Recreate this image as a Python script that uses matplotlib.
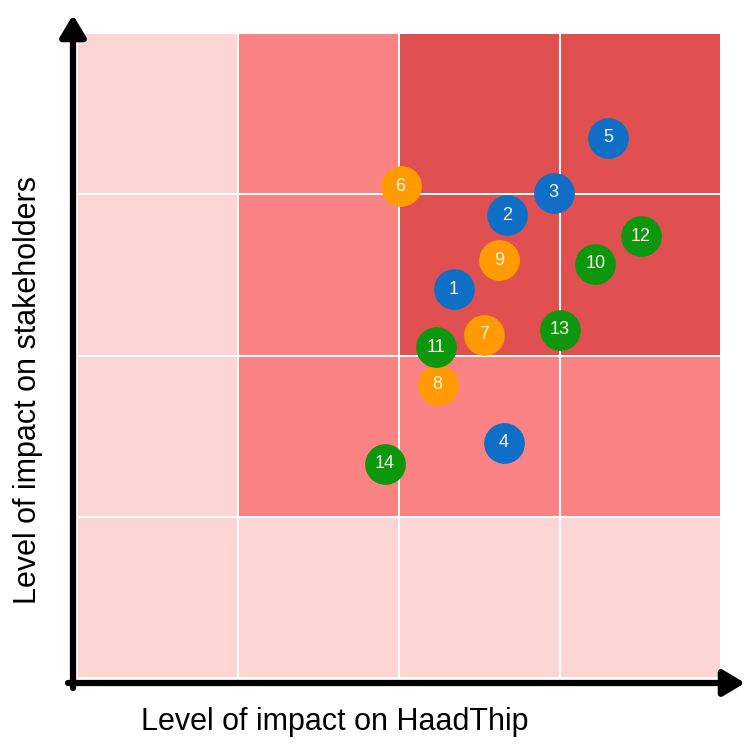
import numpy as np
import matplotlib
matplotlib.use("Agg")
import matplotlib.pyplot as plt
from matplotlib.colors import ListedColormap

# ---- data ----
ids = [1, 2, 3, 4, 5, 6, 7, 8, 9, 10, 11, 12, 13, 14]
x_haadthip = [2.34, 2.67, 2.96, 2.65, 3.30, 2.01, 2.53, 2.24, 2.62, 3.22, 2.23, 3.50, 3.00, 1.91]
y_stakeholders = [2.41, 2.87, 3.01, 1.46, 3.35, 3.05, 2.13, 1.82, 2.59, 2.57, 2.05, 2.74, 2.16, 1.33]
groups = ["blue"] * 5 + ["orange"] * 4 + ["green"] * 5
# shading level per cell (row 0 = bottom)
cell_levels = [
    [0, 0, 0, 0],
    [0, 1, 1, 1],
    [0, 1, 2, 2],
    [0, 1, 2, 2],
]
xlabel = "Level of impact on HaadThip"
ylabel = "Level of impact on stakeholders"

group_colors = {"blue": "#0F6FC6", "orange": "#FF9A00", "green": "#0C970F"}
cell_cmap = ListedColormap(["#FDD5D5", "#FA8282", "#E05050"])

plt.rcParams['font.family'] = ['Liberation Sans', 'DejaVu Sans']

W, H = 747, 754
fig = plt.figure(figsize=(W / 100, H / 100), dpi=100)
ax = fig.add_axes([77 / W, (H - 678) / H, 644 / W, 645 / H])

edges = np.arange(5)
ax.pcolormesh(edges, edges, np.array(cell_levels), cmap=cell_cmap, vmin=-0.5, vmax=2.5,
              edgecolors="white", linewidth=1.3)

for i, xv, yv, g in zip(ids, x_haadthip, y_stakeholders, groups):
    ax.scatter([xv], [yv], s=860, color=group_colors[g], zorder=3, linewidths=0)
    ax.text(xv, yv, str(i), color="#FBF5E6", fontsize=13, ha="center", va="center", zorder=4)

ax.set_xlim(0, 4)
ax.set_ylim(0, 4)
ax.set_axis_off()

# axis arrows (figure pixels, origin bottom-left)
ap = dict(arrowstyle="-|>,head_length=1.0,head_width=0.6", lw=4.5, color="black",
          shrinkA=0, shrinkB=0, mutation_scale=13)
ax.annotate("", xy=(73, H - 15), xytext=(73, H - 688), xycoords="figure pixels",
            textcoords="figure pixels", arrowprops=ap, annotation_clip=False)
ax.annotate("", xy=(745, H - 683), xytext=(68, H - 683), xycoords="figure pixels",
            textcoords="figure pixels", arrowprops=ap, annotation_clip=False)

fig.text(335 / W, 1 - 722 / H, xlabel, fontsize=22, ha="center", va="center")
fig.text(28 / W, 1 - 390 / H, ylabel, fontsize=22, ha="center", va="center", rotation=90)

fig.savefig("out.png", dpi=100)
